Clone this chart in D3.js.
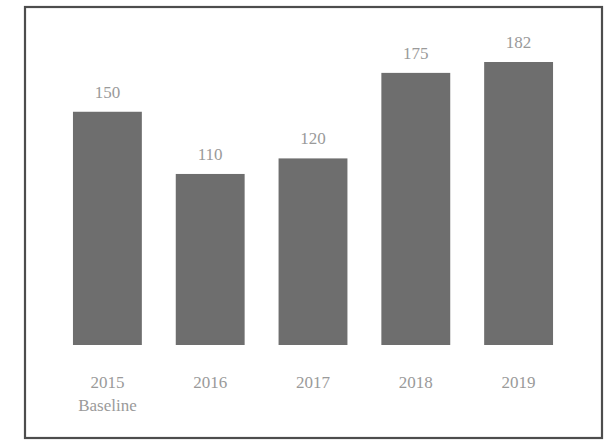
<!DOCTYPE html>
<html>
<head>
<meta charset="utf-8">
<script src="https://cdnjs.cloudflare.com/ajax/libs/d3/7.8.5/d3.min.js"></script>
<style>
  body { margin: 0; background: #fff; }
  svg text { font-family: "Liberation Serif", "DejaVu Serif", serif; }
</style>
</head>
<body>
<div id="chart"></div>
<script>
var years = ["2015", "2016", "2017", "2018", "2019"];
var subLabels = ["Baseline", "", "", "", ""];
var values = [150, 110, 120, 175, 182];

var width = 611, height = 442;

var svg = d3.select("#chart")
    .append("svg")
    .attr("width", width)
    .attr("height", height);

// outer frame
svg.append("rect")
    .attr("x", 25)
    .attr("y", 7)
    .attr("width", 577)
    .attr("height", 431)
    .attr("fill", "#fff")
    .attr("stroke", "#4d4d4d")
    .attr("stroke-width", 2.2);

var x = d3.scaleBand()
    .domain(years)
    .range([56, 570])
    .paddingInner(0.33)
    .paddingOuter(0.165);

var y = d3.scaleLinear()
    .domain([0, 182])
    .range([345, 62]);

var data = years.map(function(d, i) {
    return { year: d, sub: subLabels[i], value: values[i] };
});

svg.selectAll(".bar")
    .data(data)
    .enter().append("rect")
    .attr("class", "bar")
    .attr("x", function(d) { return x(d.year); })
    .attr("y", function(d) { return y(d.value); })
    .attr("width", x.bandwidth())
    .attr("height", function(d) { return y(0) - y(d.value); })
    .attr("fill", "#6e6e6e");

// value labels
svg.selectAll(".val")
    .data(data)
    .enter().append("text")
    .attr("class", "val")
    .attr("x", function(d) { return x(d.year) + x.bandwidth() / 2; })
    .attr("y", function(d) { return y(d.value) - 14; })
    .attr("text-anchor", "middle")
    .attr("font-size", "17px")
    .attr("fill", "#9a9a9a")
    .text(function(d) { return d.value; });

// category labels
var xAxis = svg.append("g")
    .attr("class", "x axis")
    .attr("transform", "translate(0,345)");

var ticks = xAxis.selectAll(".tick")
    .data(data)
    .enter().append("g")
    .attr("class", "tick")
    .attr("transform", function(d) { return "translate(" + (x(d.year) + x.bandwidth() / 2) + ",0)"; });

ticks.append("text")
    .attr("y", 43)
    .attr("text-anchor", "middle")
    .attr("font-size", "17px")
    .attr("fill", "#9a9a9a")
    .text(function(d) { return d.year; });

ticks.append("text")
    .attr("y", 66)
    .attr("text-anchor", "middle")
    .attr("font-size", "17px")
    .attr("fill", "#9a9a9a")
    .text(function(d) { return d.sub; });
</script>
</body>
</html>
